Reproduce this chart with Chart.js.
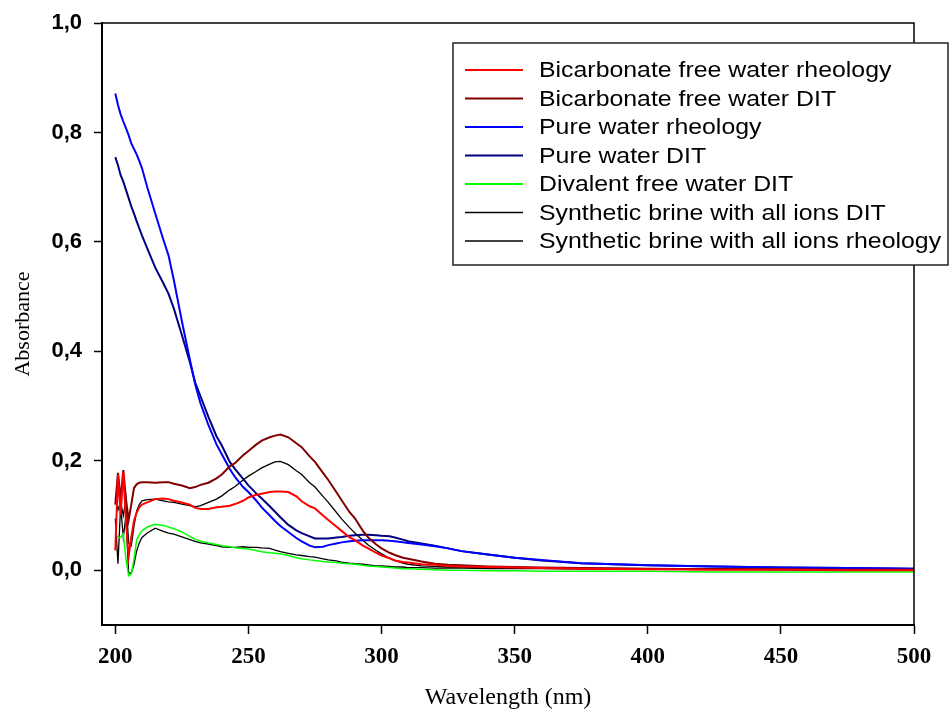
<!DOCTYPE html>
<html>
<head>
<meta charset="utf-8">
<script src="https://cdn.jsdelivr.net/npm/chart.js@4.4.0/dist/chart.umd.min.js"></script>
<style>
  html, body { margin: 0; padding: 0; background: #fff; }
  #wrap { width: 951px; height: 714px; position: relative; }
</style>
</head>
<body>
<div id="wrap"><canvas id="uv-chart" width="951" height="714"></canvas></div>
<script>
// wavelength grid (nm)
const wavelengths = [
  200, 201, 202, 203, 204, 205, 206, 207, 208, 209, 210,
  212, 215, 218, 220, 222, 225, 228, 230, 232, 235,
  238, 240, 243, 245, 248, 250, 253, 255, 258, 260,
  262, 265, 268, 270, 273, 275, 278, 280, 283, 285,
  288, 290, 293, 295, 298, 300, 303, 305, 308, 310,
  315, 320, 325, 330, 340, 350, 360, 375, 400, 425,
  450, 475, 500
];

const bicarbRheology = [
  0.036, 0.175, 0.10, 0.18, 0.09, 0.025, 0.06, 0.09, 0.105, 0.115, 0.12,
  0.124, 0.13, 0.131, 0.13, 0.127, 0.124, 0.12, 0.114, 0.112, 0.112,
  0.115, 0.116, 0.118, 0.121, 0.127, 0.133, 0.138, 0.14, 0.143, 0.144,
  0.144, 0.143, 0.135, 0.126, 0.117, 0.113, 0.10, 0.092, 0.08, 0.072,
  0.06, 0.055, 0.045, 0.04, 0.032, 0.027, 0.022, 0.018, 0.015, 0.014,
  0.011, 0.01, 0.008, 0.007, 0.006, 0.005, 0.004, 0.003, 0.002, 0.001,
  0.001, 0.0, 0.0
];

const bicarbDIT = [
  0.12, 0.178, 0.13, 0.183, 0.13, 0.092, 0.12, 0.15, 0.157, 0.16, 0.161,
  0.161, 0.16, 0.161, 0.161, 0.158, 0.155, 0.15, 0.152, 0.156, 0.16,
  0.168, 0.175, 0.19, 0.196, 0.21, 0.218, 0.23, 0.237, 0.243, 0.246,
  0.248, 0.243, 0.232, 0.225, 0.208, 0.198, 0.178, 0.165, 0.143, 0.128,
  0.106, 0.095, 0.072, 0.06, 0.047, 0.04, 0.032, 0.028, 0.023, 0.021,
  0.016, 0.012, 0.01, 0.009, 0.007, 0.006, 0.005, 0.004, 0.003, 0.002,
  0.002, 0.001, 0.001
];

const pureRheology = [
  0.871, 0.85, 0.833, 0.82, 0.808, 0.795, 0.78, 0.77, 0.76, 0.748, 0.735,
  0.70, 0.652, 0.605, 0.575, 0.53, 0.455, 0.385, 0.34, 0.305, 0.265,
  0.23, 0.212, 0.185, 0.17, 0.152, 0.143, 0.127, 0.115, 0.10, 0.09,
  0.081, 0.07, 0.059, 0.053, 0.045, 0.042, 0.043, 0.046, 0.049, 0.051,
  0.053, 0.054, 0.055, 0.055, 0.055, 0.055, 0.054, 0.053, 0.051, 0.05,
  0.047, 0.044, 0.04, 0.035, 0.029, 0.023, 0.019, 0.013, 0.009, 0.007,
  0.005, 0.004, 0.003
];

const pureDIT = [
  0.755, 0.74, 0.722, 0.71, 0.695, 0.68, 0.665, 0.652, 0.638, 0.625, 0.612,
  0.588, 0.553, 0.525, 0.505, 0.478, 0.43, 0.38, 0.343, 0.318, 0.28,
  0.245, 0.228, 0.198, 0.185, 0.167, 0.155, 0.14, 0.131, 0.117, 0.107,
  0.097, 0.083, 0.073, 0.068, 0.062, 0.058, 0.058, 0.058, 0.06, 0.061,
  0.063, 0.064, 0.065, 0.065, 0.064, 0.063, 0.062, 0.06, 0.056, 0.053,
  0.049, 0.045, 0.04, 0.035, 0.029, 0.023, 0.018, 0.013, 0.009, 0.007,
  0.005, 0.004, 0.003
];

const divalentDIT = [
  0.067, 0.06, 0.06, 0.067, 0.02, -0.01, -0.007, 0.02, 0.055, 0.065, 0.072,
  0.079, 0.084, 0.082, 0.079, 0.076, 0.07, 0.062, 0.057, 0.053, 0.05,
  0.047, 0.045, 0.043, 0.041, 0.04, 0.039, 0.036, 0.034, 0.032, 0.031,
  0.03, 0.027, 0.023, 0.021, 0.019, 0.018, 0.016, 0.015, 0.014, 0.013,
  0.012, 0.011, 0.009, 0.008, 0.007, 0.006, 0.005, 0.004, 0.003, 0.003,
  0.002, 0.001, 0.0, 0.0, -0.001, -0.001, -0.002, -0.002, -0.002, -0.003,
  -0.003, -0.003, -0.003
];

const brineDIT = [
  0.133, 0.11, 0.125, 0.10, 0.13, 0.05, 0.045, 0.08, 0.108, 0.12, 0.127,
  0.129, 0.13, 0.127, 0.125, 0.124, 0.121, 0.118, 0.116, 0.118, 0.124,
  0.13, 0.136, 0.147, 0.153, 0.165, 0.172, 0.181, 0.187, 0.194, 0.198,
  0.199, 0.193, 0.182, 0.175, 0.16, 0.152, 0.135, 0.124, 0.106, 0.094,
  0.078, 0.068, 0.055, 0.046, 0.036, 0.03, 0.022, 0.018, 0.013, 0.011,
  0.008, 0.007, 0.006, 0.006, 0.005, 0.005, 0.004, 0.004, 0.003, 0.003,
  0.002, 0.002, 0.002
];

const brineRheology = [
  0.094, 0.012, 0.118, 0.06, 0.10, -0.005, -0.005, 0.01, 0.035, 0.05, 0.06,
  0.068, 0.077, 0.071, 0.068, 0.066, 0.061, 0.056, 0.053, 0.05, 0.048,
  0.045, 0.043, 0.042, 0.042, 0.043, 0.042, 0.042, 0.041, 0.04, 0.037,
  0.034, 0.031, 0.028, 0.027, 0.025, 0.024, 0.021, 0.019, 0.017, 0.015,
  0.013, 0.012, 0.011, 0.01, 0.008, 0.008, 0.007, 0.006, 0.006, 0.005,
  0.005, 0.004, 0.004, 0.004, 0.003, 0.003, 0.003, 0.002, 0.002, 0.002,
  0.001, 0.001, 0.001
];

const seriesLabels = [
  'Bicarbonate free water rheology',
  'Bicarbonate free water DIT',
  'Pure water rheology',
  'Pure water DIT',
  'Divalent free water DIT',
  'Synthetic brine with all ions DIT',
  'Synthetic brine with all ions rheology'
];
const seriesValues = [bicarbRheology, bicarbDIT, pureRheology, pureDIT, divalentDIT, brineDIT, brineRheology];
const seriesColors = ['#ff0000', '#800000', '#0000ff', '#000080', '#00ff00', '#000000', '#000000'];
const seriesWidths = [2, 2, 2, 2, 1.5, 1.3, 1.3];

const xTicks = [200, 250, 300, 350, 400, 450, 500];
const yTicks = [0, 0.2, 0.4, 0.6, 0.8, 1.0];

// frame (top/right) + custom legend box drawn on top
const framePlugin = {
  id: 'frameAndLegend',
  afterDraw(chart) {
    const ctx = chart.ctx;
    const a = chart.chartArea;
    ctx.save();
    ctx.strokeStyle = '#000';
    ctx.lineWidth = 1.5;
    ctx.beginPath();
    ctx.moveTo(a.left, a.top);
    ctx.lineTo(a.right, a.top);
    ctx.lineTo(a.right, a.bottom);
    ctx.stroke();

    // legend box
    const bx = 453, by = 43, bw = 495, bh = 222;
    ctx.fillStyle = '#fff';
    ctx.fillRect(bx, by, bw, bh);
    ctx.strokeStyle = '#222';
    ctx.lineWidth = 1.5;
    ctx.strokeRect(bx, by, bw, bh);
    ctx.font = '22px "Liberation Sans", Arial, sans-serif';
    ctx.textBaseline = 'middle';
    chart.data.datasets.forEach((ds, i) => {
      const y = 70 + i * 28.5;
      ctx.strokeStyle = ds.borderColor;
      ctx.lineWidth = i >= 5 ? 1.3 : 2;
      ctx.beginPath();
      ctx.moveTo(465, y);
      ctx.lineTo(523, y);
      ctx.stroke();
      ctx.fillStyle = '#000';
      ctx.save();
      ctx.translate(539, y + 1);
      ctx.scale(1.13, 1);
      ctx.fillText(ds.label, 0, 0);
      ctx.restore();
    });
    ctx.restore();
  }
};

new Chart(document.getElementById('uv-chart').getContext('2d'), {
  type: 'line',
  data: {
    datasets: seriesLabels.map((label, i) => ({
      label: label,
      data: wavelengths.map((w, j) => ({ x: w, y: seriesValues[i][j] })),
      borderColor: seriesColors[i],
      backgroundColor: seriesColors[i],
      borderWidth: seriesWidths[i],
      pointRadius: 0,
      tension: 0,
      fill: false
    }))
  },
  options: {
    responsive: false,
    animation: false,
    layout: { padding: { top: 16, right: 37, left: 0, bottom: 0 } },
    plugins: {
      legend: { display: false },
      tooltip: { enabled: false }
    },
    scales: {
      x: {
        type: 'linear',
        min: 195,
        max: 500,
        afterBuildTicks: scale => { scale.ticks = xTicks.map(v => ({ value: v })); },
        afterFit: scale => { scale.height = 89; },
        grid: { display: true, drawOnChartArea: false, drawTicks: true, tickLength: 9, tickColor: '#000', tickWidth: 1.5 },
        border: { display: true, color: '#000', width: 2 },
        ticks: {
          color: '#000',
          padding: 9,
          maxRotation: 0,
          font: { family: '"Liberation Serif", "Times New Roman", serif', size: 23, weight: 'bold' },
          callback: v => String(v)
        },
        title: {
          display: true,
          text: 'Wavelength (nm)',
          color: '#000',
          font: { family: '"Liberation Serif", "Times New Roman", serif', size: 24 },
          padding: { top: 0, bottom: 2 }
        }
      },
      y: {
        min: -0.1,
        max: 1.0,
        afterBuildTicks: scale => { scale.ticks = yTicks.map(v => ({ value: v })); },
        afterFit: scale => { scale.width = 102; },
        grid: { display: true, drawOnChartArea: false, drawTicks: true, tickLength: 8, tickColor: '#000', tickWidth: 1.5 },
        border: { display: true, color: '#000', width: 2 },
        ticks: {
          color: '#000',
          padding: 12,
          font: { family: '"Liberation Sans", Arial, sans-serif', size: 22, weight: 'bold', lineHeight: 1 },
          callback: v => v.toFixed(1).replace('.', ',')
        },
        title: {
          display: true,
          text: 'Absorbance',
          color: '#000',
          font: { family: '"Liberation Serif", "Times New Roman", serif', size: 22 },
          padding: { top: 10, bottom: 0 }
        }
      }
    }
  },
  plugins: [framePlugin]
});
</script>
</body>
</html>
